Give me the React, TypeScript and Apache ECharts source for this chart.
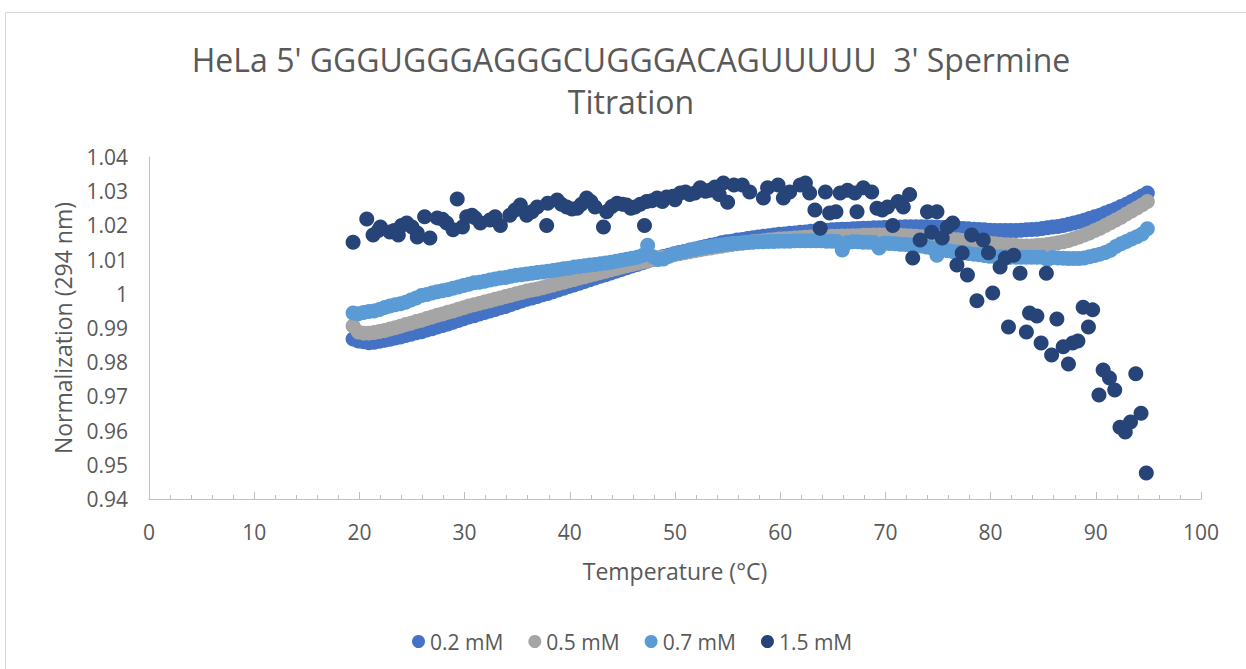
import React, { useEffect, useRef } from "react";
import * as echarts from "echarts";

const TITLE_LINE_1 = "HeLa 5' GGGUGGGAGGGCUGGGACAGUUUUU  3' Spermine";
const TITLE_LINE_2 = "Titration";
const X_NAME = "Temperature (°C)";
const Y_NAME = "Normalization (294 nm)";
const SERIES_NAMES = ["0.2 mM", "0.5 mM", "0.7 mM", "1.5 mM"];
const COLORS = ["#4472C4", "#A5A5A5", "#5B9BD5", "#264478"];

const TEMPS = [
  19.4, 19.9, 20.4, 20.9, 21.4, 21.9, 22.4, 22.9, 23.4, 23.9,
  24.4, 24.9, 25.4, 25.9, 26.4, 26.9, 27.4, 27.9, 28.4, 28.9,
  29.4, 29.9, 30.4, 30.9, 31.4, 31.9, 32.4, 32.9, 33.4, 33.9,
  34.4, 34.9, 35.4, 35.9, 36.4, 36.9, 37.4, 37.9, 38.4, 38.9,
  39.4, 39.9, 40.4, 40.9, 41.4, 41.9, 42.4, 42.9, 43.4, 43.9,
  44.4, 44.9, 45.4, 45.9, 46.4, 46.9, 47.4, 47.9, 48.4, 48.9,
  49.4, 49.9, 50.4, 50.9, 51.4, 51.9, 52.4, 52.9, 53.4, 53.9,
  54.4, 54.9, 55.4, 55.9, 56.4, 56.9, 57.4, 57.9, 58.4, 58.9,
  59.4, 59.9, 60.4, 60.9, 61.4, 61.9, 62.4, 62.9, 63.4, 63.9,
  64.4, 64.9, 65.4, 65.9, 66.4, 66.9, 67.4, 67.9, 68.4, 68.9,
  69.4, 69.9, 70.4, 70.9, 71.4, 71.9, 72.4, 72.9, 73.4, 73.9,
  74.4, 74.9, 75.4, 75.9, 76.4, 76.9, 77.4, 77.9, 78.4, 78.9,
  79.4, 79.9, 80.4, 80.9, 81.4, 81.9, 82.4, 82.9, 83.4, 83.9,
  84.4, 84.9, 85.4, 85.9, 86.4, 86.9, 87.4, 87.9, 88.4, 88.9,
  89.4, 89.9, 90.4, 90.9, 91.4, 91.9, 92.4, 92.9, 93.4, 93.9,
  94.4, 94.9,
];

const MM_02 = [
  0.9868, 0.9862, 0.9860, 0.9857, 0.9858, 0.9861, 0.9864, 0.9867, 0.9871, 0.9874,
  0.9878, 0.9882, 0.9886, 0.9889, 0.9894, 0.9898, 0.9903, 0.9907, 0.9912, 0.9917,
  0.9922, 0.9927, 0.9932, 0.9936, 0.9941, 0.9945, 0.9950, 0.9954, 0.9959, 0.9963,
  0.9969, 0.9974, 0.9979, 0.9984, 0.9988, 0.9992, 0.9997, 1.0001, 1.0006, 1.0011,
  1.0016, 1.0021, 1.0026, 1.0031, 1.0036, 1.0041, 1.0046, 1.0051, 1.0056, 1.0061,
  1.0066, 1.0071, 1.0076, 1.0081, 1.0086, 1.0091, 1.0096, 1.0101, 1.0105, 1.0109,
  1.0113, 1.0117, 1.0121, 1.0124, 1.0128, 1.0131, 1.0135, 1.0138, 1.0142, 1.0145,
  1.0149, 1.0152, 1.0154, 1.0157, 1.0159, 1.0162, 1.0164, 1.0166, 1.0168, 1.0170,
  1.0172, 1.0174, 1.0175, 1.0177, 1.0178, 1.0180, 1.0181, 1.0183, 1.0184, 1.0185,
  1.0186, 1.0187, 1.0188, 1.0189, 1.0189, 1.0190, 1.0191, 1.0192, 1.0192, 1.0193,
  1.0193, 1.0194, 1.0194, 1.0195, 1.0195, 1.0196, 1.0196, 1.0196, 1.0196, 1.0196,
  1.0195, 1.0195, 1.0194, 1.0194, 1.0193, 1.0192, 1.0191, 1.0190, 1.0189, 1.0188,
  1.0187, 1.0186, 1.0185, 1.0185, 1.0185, 1.0185, 1.0185, 1.0186, 1.0187, 1.0188,
  1.0189, 1.0191, 1.0193, 1.0195, 1.0197, 1.0200, 1.0203, 1.0207, 1.0211, 1.0215,
  1.0220, 1.0225, 1.0230, 1.0236, 1.0242, 1.0248, 1.0255, 1.0262, 1.0270, 1.0278,
  1.0286, 1.0295,
];

const MM_05 = [
  0.9906, 0.9888, 0.9885, 0.9885, 0.9887, 0.9890, 0.9893, 0.9897, 0.9901, 0.9905,
  0.9910, 0.9914, 0.9919, 0.9923, 0.9928, 0.9932, 0.9937, 0.9941, 0.9946, 0.9950,
  0.9955, 0.9959, 0.9964, 0.9968, 0.9972, 0.9976, 0.9980, 0.9984, 0.9988, 0.9992,
  0.9996, 1.0000, 1.0004, 1.0008, 1.0011, 1.0014, 1.0018, 1.0022, 1.0026, 1.0030,
  1.0034, 1.0038, 1.0042, 1.0046, 1.0050, 1.0054, 1.0058, 1.0062, 1.0066, 1.0070,
  1.0074, 1.0078, 1.0082, 1.0086, 1.0089, 1.0093, 1.0096, 1.0100, 1.0103, 1.0107,
  1.0110, 1.0114, 1.0117, 1.0120, 1.0123, 1.0126, 1.0129, 1.0132, 1.0134, 1.0137,
  1.0139, 1.0142, 1.0144, 1.0146, 1.0148, 1.0150, 1.0152, 1.0154, 1.0155, 1.0157,
  1.0158, 1.0160, 1.0161, 1.0162, 1.0163, 1.0164, 1.0165, 1.0166, 1.0166, 1.0167,
  1.0167, 1.0168, 1.0168, 1.0169, 1.0169, 1.0170, 1.0170, 1.0171, 1.0171, 1.0172,
  1.0172, 1.0172, 1.0172, 1.0171, 1.0171, 1.0170, 1.0169, 1.0168, 1.0167, 1.0166,
  1.0165, 1.0164, 1.0162, 1.0161, 1.0159, 1.0158, 1.0156, 1.0155, 1.0153, 1.0152,
  1.0150, 1.0148, 1.0146, 1.0145, 1.0143, 1.0142, 1.0141, 1.0140, 1.0140, 1.0140,
  1.0141, 1.0142, 1.0144, 1.0146, 1.0149, 1.0152, 1.0156, 1.0161, 1.0166, 1.0172,
  1.0178, 1.0185, 1.0192, 1.0200, 1.0208, 1.0216, 1.0224, 1.0233, 1.0242, 1.0251,
  1.0260, 1.0270,
];

const MM_07 = [
  0.9944, 0.9942, 0.9945, 0.9948, 0.9950, 0.9954, 0.9960, 0.9964, 0.9968, 0.9971,
  0.9975, 0.9982, 0.9988, 0.9995, 0.9998, 1.0002, 1.0006, 1.0009, 1.0012, 1.0016,
  1.0020, 1.0024, 1.0028, 1.0032, 1.0034, 1.0037, 1.0040, 1.0043, 1.0046, 1.0048,
  1.0051, 1.0054, 1.0056, 1.0058, 1.0060, 1.0062, 1.0064, 1.0066, 1.0068, 1.0070,
  1.0073, 1.0075, 1.0078, 1.0080, 1.0082, 1.0084, 1.0086, 1.0088, 1.0090, 1.0092,
  1.0095, 1.0098, 1.0101, 1.0104, 1.0107, 1.0112, 1.0142, 1.0108, 1.0100, 1.0102,
  1.0110, 1.0116, 1.0120, 1.0124, 1.0127, 1.0130, 1.0133, 1.0136, 1.0138, 1.0141,
  1.0143, 1.0145, 1.0147, 1.0148, 1.0149, 1.0150, 1.0151, 1.0152, 1.0152, 1.0153,
  1.0153, 1.0154, 1.0154, 1.0154, 1.0155, 1.0155, 1.0155, 1.0155, 1.0155, 1.0155,
  1.0154, 1.0154, 1.0153, 1.0128, 1.0150, 1.0152, 1.0152, 1.0151, 1.0151, 1.0150,
  1.0134, 1.0148, 1.0147, 1.0146, 1.0145, 1.0144, 1.0143, 1.0142, 1.0140, 1.0137,
  1.0134, 1.0113, 1.0128, 1.0126, 1.0124, 1.0122, 1.0120, 1.0118, 1.0116, 1.0114,
  1.0112, 1.0110, 1.0109, 1.0108, 1.0108, 1.0107, 1.0107, 1.0107, 1.0107, 1.0107,
  1.0107, 1.0107, 1.0100, 1.0106, 1.0105, 1.0104, 1.0103, 1.0103, 1.0103, 1.0105,
  1.0108, 1.0112, 1.0116, 1.0121, 1.0127, 1.0138, 1.0146, 1.0153, 1.0160, 1.0167,
  1.0175, 1.0190,
];

// 1.5 mM: scattered readings [temperature, normalization]
const MM_15_T = [
  19.4, 20.7, 21.3, 21.8, 22.0, 22.9, 23.3, 23.7, 24.0, 24.5,
  25.0, 25.5, 25.5, 26.2, 26.7, 27.4, 27.9, 28.3, 28.9, 29.3,
  29.8, 30.2, 30.7, 31.0, 31.5, 32.4, 32.9, 33.4, 34.3, 34.8,
  35.3, 35.9, 36.4, 36.9, 37.8, 37.9, 38.8, 39.2, 39.7, 40.2,
  40.7, 41.1, 41.6, 42.0, 42.4, 43.2, 43.5, 44.0, 44.5, 45.0,
  45.4, 45.8, 46.2, 46.7, 47.1, 47.3, 47.8, 48.3, 48.8, 49.2,
  49.8, 50.0, 50.5, 51.0, 51.4, 51.9, 52.4, 52.9, 53.3, 53.8,
  54.2, 54.6, 55.0, 55.6, 56.4, 57.1, 58.4, 58.8, 59.8, 60.3,
  60.9, 61.9, 62.4, 62.8, 63.3, 63.8, 64.3, 64.7, 65.3, 65.7,
  66.4, 67.1, 67.3, 67.9, 68.7, 69.2, 69.7, 70.2, 70.7, 71.2,
  71.7, 72.3, 72.6, 73.3, 74.0, 74.4, 74.9, 75.4, 75.9, 76.4,
  76.8, 77.3, 77.8, 78.2, 78.7, 79.3, 79.8, 80.2, 80.9, 81.4,
  81.7, 82.2, 82.8, 83.4, 83.7, 84.4, 84.8, 85.3, 85.8, 86.3,
  86.9, 87.4, 87.8, 88.3, 88.8, 89.3, 89.7, 90.3, 90.7, 91.3,
  91.8, 92.3, 92.8, 93.3, 93.8, 94.3, 94.8,
];
const MM_15 = [
  1.0151, 1.0219, 1.0172, 1.0185, 1.0195, 1.0181, 1.0185, 1.0172, 1.0200, 1.0207,
  1.0195, 1.0178, 1.0166, 1.0225, 1.0163, 1.0222, 1.0218, 1.0207, 1.0187, 1.0277,
  1.0195, 1.0225, 1.0230, 1.0222, 1.0207, 1.0216, 1.0225, 1.0200, 1.0230, 1.0245,
  1.0260, 1.0230, 1.0240, 1.0254, 1.0200, 1.0265, 1.0274, 1.0262, 1.0254, 1.0248,
  1.0250, 1.0262, 1.0280, 1.0270, 1.0254, 1.0195, 1.0240, 1.0255, 1.0265, 1.0262,
  1.0260, 1.0250, 1.0254, 1.0262, 1.0200, 1.0270, 1.0272, 1.0280, 1.0270, 1.0283,
  1.0285, 1.0275, 1.0295, 1.0298, 1.0290, 1.0295, 1.0310, 1.0300, 1.0303, 1.0312,
  1.0290, 1.0324, 1.0268, 1.0318, 1.0318, 1.0298, 1.0280, 1.0310, 1.0318, 1.0280,
  1.0298, 1.0318, 1.0324, 1.0295, 1.0245, 1.0192, 1.0298, 1.0236, 1.0240, 1.0295,
  1.0303, 1.0295, 1.0240, 1.0310, 1.0298, 1.0250, 1.0245, 1.0254, 1.0200, 1.0270,
  1.0254, 1.0290, 1.0105, 1.0157, 1.0240, 1.0180, 1.0240, 1.0163, 1.0195, 1.0207,
  1.0084, 1.0119, 1.0055, 1.0172, 0.9980, 1.0157, 1.0120, 1.0002, 1.0078, 1.0105,
  0.9903, 1.0113, 1.0060, 0.9888, 0.9944, 0.9935, 0.9856, 1.0060, 0.9821, 0.9926,
  0.9845, 0.9795, 0.9856, 0.9862, 0.9961, 0.9903, 0.9953, 0.9704, 0.9777, 0.9754,
  0.9719, 0.9610, 0.9596, 0.9625, 0.9766, 0.9651, 0.9476,
];

const Y_MIN = 0.94;
const Y_MAX = 1.04;
const Y_STEP = 0.01;
const X_MIN = 0;
const X_MAX = 100;
const X_STEP = 10;

const TEXT = "#595959";
const AXIS = "#bfbfbf";
const FONT = "'Open Sans', 'Noto Sans', sans-serif";

export default function App() {
  const ref = useRef<HTMLDivElement>(null);

  useEffect(() => {
    if (!ref.current) return;
    const chart = echarts.init(ref.current, null, { renderer: "svg" });

    const pairs = (vals: number[]) => TEMPS.map((t, i) => [t, vals[i]]);
    const navy = MM_15_T.map((t, i) => [t, MM_15[i]]);
    const datasets = [pairs(MM_02), pairs(MM_05), pairs(MM_07), navy];

    const option: any = {
      animation: false,
      backgroundColor: "#ffffff",
      textStyle: { fontFamily: FONT },
      title: {
        text: TITLE_LINE_1 + "\n" + TITLE_LINE_2,
        left: 626,
        top: 33,
        textAlign: "center",
        textStyle: {
          fontFamily: FONT,
          fontSize: 32,
          fontWeight: "normal",
          color: TEXT,
          lineHeight: 42,
        },
      },
      graphic: [
        {
          type: "rect",
          shape: { x: 5.5, y: 12.5, width: 1300, height: 700 },
          style: { fill: "none", stroke: "#d9d9d9", lineWidth: 1 },
          silent: true,
        },
      ],
      legend: {
        data: SERIES_NAMES,
        left: 407,
        top: 626,
        icon: "circle",
        itemWidth: 13,
        itemHeight: 13,
        itemGap: 25,
        textStyle: { fontFamily: FONT, fontSize: 21, color: TEXT },
        selectedMode: false,
      },
      grid: { left: 149, right: 45, top: 157, bottom: 170 },
      xAxis: {
        type: "value",
        min: X_MIN,
        max: X_MAX,
        interval: X_STEP,
        name: X_NAME,
        nameLocation: "middle",
        nameGap: 60,
        nameTextStyle: { fontFamily: FONT, fontSize: 23, color: TEXT },
        axisLine: { show: true, lineStyle: { color: AXIS, width: 1 } },
        axisTick: { show: true, inside: true, length: 7, lineStyle: { color: AXIS } },
        minorTick: { show: true, splitNumber: 5, length: 4, lineStyle: { color: AXIS } },
        splitLine: { show: false },
        axisLabel: { fontFamily: FONT, fontSize: 21, color: TEXT, margin: 22 },
      },
      yAxis: {
        type: "value",
        min: Y_MIN,
        max: Y_MAX,
        interval: Y_STEP,
        name: Y_NAME,
        nameLocation: "middle",
        nameGap: 75,
        nameTextStyle: { fontFamily: FONT, fontSize: 23, color: TEXT },
        axisLine: { show: true, lineStyle: { color: AXIS, width: 1 } },
        axisTick: { show: false },
        splitLine: { show: false },
        axisLabel: {
          fontFamily: FONT,
          fontSize: 21,
          color: TEXT,
          margin: 21,
          formatter: (v: number) => String(Math.round(v * 100) / 100),
        },
      },
      series: SERIES_NAMES.map((name, i) => ({
        name,
        type: "scatter",
        symbol: "circle",
        symbolSize: 15,
        data: datasets[i],
        itemStyle: { color: COLORS[i], opacity: 1 },
        emphasis: { disabled: true },
        z: 2 + i,
      })),
    };

    chart.setOption(option);
    return () => chart.dispose();
  }, []);

  return (
    <div
      ref={ref}
      style={{ position: "absolute", left: 0, top: 0, width: 1246, height: 669, background: "#fff" }}
    />
  );
}
